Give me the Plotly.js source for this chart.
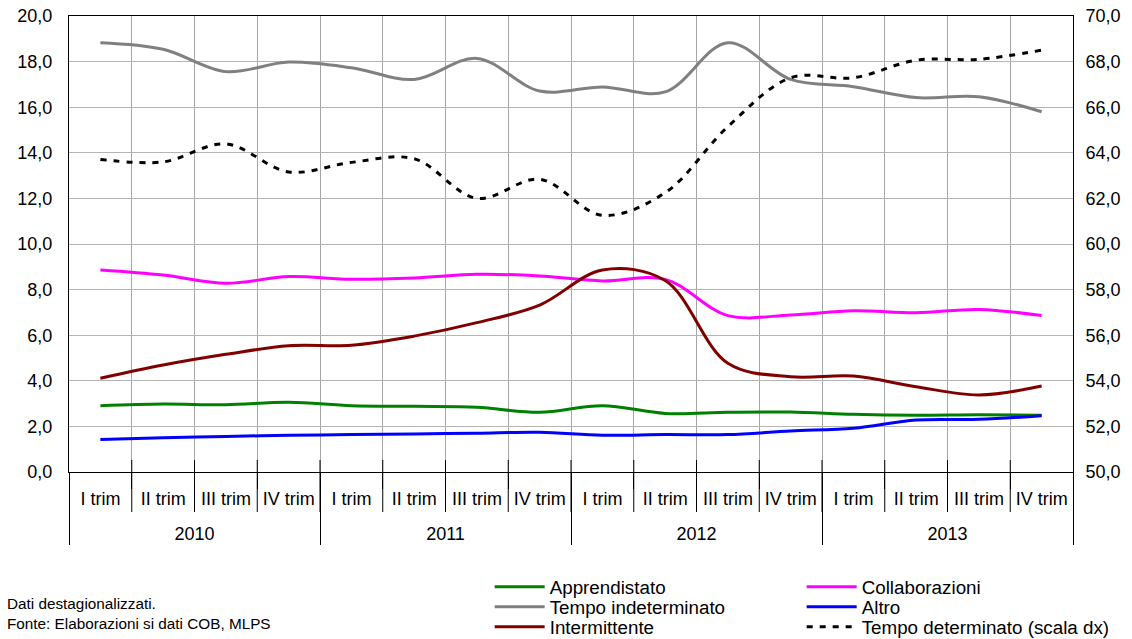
<!DOCTYPE html>
<html>
<head>
<meta charset="utf-8">
<script src="https://cdn.plot.ly/plotly-3.0.1.min.js"></script>
<style>html,body{margin:0;padding:0;background:#fff;}#chart{width:1132px;height:639px;}</style>
</head>
<body>
<div id="chart"></div>
<script>
// ---- data ----
const years = ['2010', '2011', '2012', '2013'];
const quarters = ['I trim', 'II trim', 'III trim', 'IV trim'];

const apprendistato = [2.91, 2.98, 2.95, 3.06, 2.91, 2.88, 2.84, 2.62, 2.91, 2.57, 2.62, 2.63, 2.53, 2.49, 2.51, 2.49];
const tempoIndeterminato = [18.83, 18.54, 17.56, 17.98, 17.73, 17.22, 18.14, 16.71, 16.89, 16.67, 18.83, 17.22, 16.9, 16.42, 16.46, 15.8];
const intermittente = [4.11, 4.69, 5.16, 5.54, 5.56, 5.96, 6.55, 7.32, 8.86, 8.4, 4.77, 4.18, 4.21, 3.74, 3.38, 3.77];
const collaborazioni = [8.86, 8.64, 8.28, 8.57, 8.45, 8.51, 8.67, 8.6, 8.38, 8.45, 6.86, 6.89, 7.07, 6.99, 7.13, 6.86];
const altro = [1.43, 1.5, 1.56, 1.61, 1.64, 1.67, 1.7, 1.74, 1.61, 1.64, 1.64, 1.8, 1.92, 2.28, 2.31, 2.47];
const tempoDeterminato = [63.71, 63.6, 64.39, 63.16, 63.58, 63.74, 62.0, 62.84, 61.26, 62.25, 65.15, 67.29, 67.29, 68.06, 68.1, 68.5];

const noteLines = ['Dati destagionalizzati.', 'Fonte: Elaborazioni si dati COB, MLPS'];

// ---- build multicategory x ----
const xOuter = [], xInner = [];
years.forEach(y => quarters.forEach(q => { xOuter.push('<br>' + y); xInner.push(q); }));
const X = [xOuter, xInner];
const nQ = xInner.length;

const FONT = 'Liberation Sans, Arial, sans-serif';
function tr(name, y, color, legend, extra) {
  return Object.assign({
    type: 'scatter', mode: 'lines', name: name, x: X, y: y,
    line: {color: color, width: 3, shape: 'spline', smoothing: 1},
    legend: legend, hoverinfo: 'skip'
  }, extra || {});
}

const data = [
  tr('Apprendistato', apprendistato, '#008000', 'legend'),
  tr('Collaborazioni', collaborazioni, '#FF00FF', 'legend'),
  tr('Tempo indeterminato', tempoIndeterminato, '#808080', 'legend2'),
  tr('Altro', altro, '#0000FF', 'legend2'),
  tr('Intermittente', intermittente, '#800000', 'legend3'),
  tr('Tempo determinato (scala dx)', tempoDeterminato, '#000000', 'legend3', {yaxis: 'y2'})
];
data[5].line.dash = '6px,7px';

const plotH = 639 - 16 - 167;
const plotW = 1132 - 69 - 59;
const shapes = [];
for (let k = 1; k < nQ; k++) {
  shapes.push({type: 'line', xref: 'paper', yref: 'paper', x0: k / nQ, x1: k / nQ, y0: 12 / plotH, y1: -40 / plotH,
    line: {color: '#000', width: 1}});
}

const annotations = noteLines.map((t, i) => ({
  text: t, xref: 'paper', yref: 'paper', x: -64 / plotW, y: (472 - 603 - i * 20) / plotH,
  xanchor: 'left', yanchor: 'middle', showarrow: false, align: 'left',
  font: {family: FONT, size: 15.3, color: '#000'}
}));

function leg(rowY) {
  return {x: 0.419, y: (472 - rowY) / plotH, xanchor: 'left', yanchor: 'middle', orientation: 'h',
    bgcolor: 'rgba(0,0,0,0)', font: {family: FONT, size: 18.8, color: '#000'},
    itemwidth: 50, entrywidthmode: 'pixels', entrywidth: 247, tracegroupgap: 0};
}

const layout = {
  width: 1132, height: 639,
  margin: {l: 69, r: 59, t: 16, b: 167, autoexpand: false},
  paper_bgcolor: '#fff', plot_bgcolor: '#fff',
  separators: ',.',
  font: {family: FONT, size: 18, color: '#000'},
  showlegend: true,
  xaxis: {
    type: 'multicategory', range: [-0.5, nQ - 0.5], autorange: false,
    tickson: 'boundaries', ticks: 'outside', ticklen: 16, tickcolor: '#000', ticklabelstandoff: 10,
    showgrid: true, gridcolor: '#a6a6a6', gridwidth: 1,
    showline: true, linecolor: '#000', linewidth: 1, mirror: true,
    showdividers: true, dividercolor: '#000', dividerwidth: 1,
    tickfont: {family: FONT, size: 18, color: '#000'}, automargin: false
  },
  yaxis: {
    range: [0, 20], dtick: 2, tickformat: '.1f', showgrid: true, gridcolor: '#b4b4b4', gridwidth: 1,
    zeroline: false, showline: true, linecolor: '#000', linewidth: 1, ticks: '', ticklabelstandoff: 12,
    tickfont: {family: FONT, size: 18, color: '#000'}, automargin: false
  },
  yaxis2: {
    range: [50, 70], dtick: 2, tickformat: '.1f', overlaying: 'y', side: 'right', showgrid: false,
    zeroline: false, showline: true, linecolor: '#000', linewidth: 1, ticks: '', ticklabelstandoff: 8,
    tickfont: {family: FONT, size: 18, color: '#000'}, automargin: false
  },
  legend: leg(587),
  legend2: leg(607),
  legend3: leg(627),
  shapes: shapes,
  annotations: annotations
};

Plotly.newPlot('chart', data, layout, {displayModeBar: false, staticPlot: true});
</script>
</body>
</html>
